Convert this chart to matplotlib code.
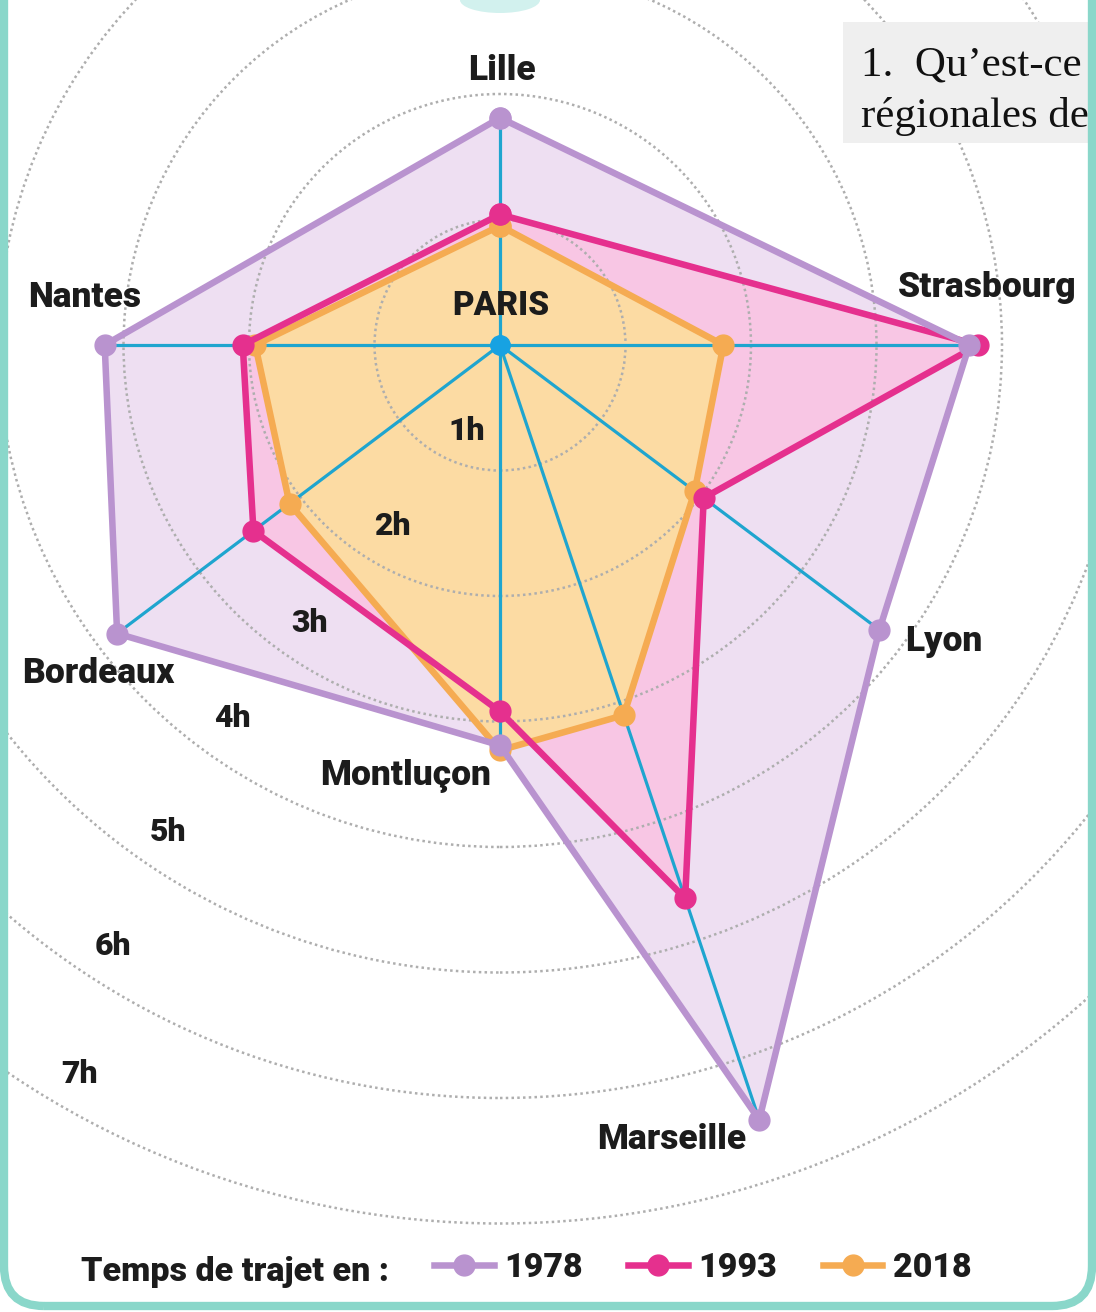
import numpy as np
import matplotlib.pyplot as plt
from matplotlib.patches import Circle, FancyBboxPatch, Rectangle, Ellipse

# temps de trajet depuis Paris (en heures)
villes = ['Lille', 'Strasbourg', 'Lyon', 'Marseille', 'Montluçon', 'Bordeaux', 'Nantes']
angles = [90, 0, -36.9, -71.5, -90, 217, 180]   # direction de chaque ville vue de Paris
t1978 = [1.81, 3.74, 3.78, 6.51, 3.19, 3.82, 3.15]
t1993 = [1.04, 3.81, 2.03, 4.65, 2.92, 2.46, 2.05]
t2018 = [0.95, 1.78, 1.94, 3.11, 3.23, 2.10, 1.95]
heures = [1, 2, 3, 4, 5, 6, 7]
annees = ['1978', '1993', '2018']

W, H = 1096, 1312
S = 125.5          # pixels par heure
CX, CY = 500, 345  # Paris, en pixels


def px(x, y):
    """pixel de l'image -> coordonnées en heures"""
    return (x - CX) / S, (CY - y) / S


def polygone(vals):
    a = np.radians(angles)
    v = np.asarray(vals)
    x = v * np.cos(a)
    y = v * np.sin(a)
    return np.append(x, x[0]), np.append(y, y[0])


fig = plt.figure(figsize=(W / 100, H / 100), dpi=100)
ax = fig.add_axes([0, 0, 1, 1])
x0, y0 = px(0, H)
x1, y1 = px(W, 0)
ax.set_xlim(x0, x1)
ax.set_ylim(y0, y1)
ax.set_aspect('equal')
ax.axis('off')

violet = '#b993cf'
rose = '#e5308e'
orange = '#f5ab52'
cyan = '#1fa5cf'

# remplissages
for vals, fc, z in [(t1978, '#eedff2', 1), (t1993, '#f8c6e4', 2), (t2018, '#fcdba3', 3)]:
    xs, ys = polygone(vals)
    ax.fill(xs, ys, color=fc, zorder=z, lw=0)

# cercles horaires
for h in heures:
    ax.add_patch(Circle((0, 0), h, fill=False, ec='#aeaeae', lw=1.8,
                        ls=(0, (1, 1.3)), zorder=4))

# rayons
a = np.radians(angles)
rmax = np.max([t1978, t1993, t2018], axis=0)
for ang, r in zip(a, rmax):
    ax.plot([0, r * np.cos(ang)], [0, r * np.sin(ang)], color=cyan, lw=2.3,
            zorder=5, solid_capstyle='round')

lignes = []
for vals, col, z in [(t2018, orange, 6), (t1993, rose, 7), (t1978, violet, 8)]:
    xs, ys = polygone(vals)
    ln, = ax.plot(xs, ys, '-o', color=col, lw=4.7, ms=15, zorder=z,
                  solid_joinstyle='round')
    lignes.append(ln)
lignes = lignes[::-1]

ax.plot(0, 0, 'o', color='#17a2e2', ms=14, zorder=9)

police = ['Roboto', 'DejaVu Sans']
texte = '#1c1c1c'
gras = 'heavy'

# noms des villes (centre x, ligne de base y en pixels)
pos_villes = {
    'PARIS': (501, 315),
    'Lille': (502, 80),
    'Strasbourg': (987, 297),
    'Lyon': (944, 651),
    'Marseille': (672, 1149),
    'Montluçon': (406, 785),
    'Bordeaux': (98, 683),
    'Nantes': (85, 307),
}
for nom, (u, v) in pos_villes.items():
    taille = 24 if nom == 'PARIS' else 25.5
    ax.text(*px(u, v), nom, ha='center', va='baseline', fontsize=taille,
            fontweight=gras, family=police, color=texte, zorder=10)

# étiquettes des heures
pos_heures = [(467, 440), (392, 535), (310, 632), (232, 727), (168, 841),
              (113, 955), (80, 1083)]
for h, (u, v) in zip(heures, pos_heures):
    ax.text(*px(u, v), f'{h}h', ha='center', va='baseline', fontsize=23,
            fontweight=gras, family=police, color=texte, zorder=10)

# légende
ax.text(*px(81, 1281), 'Temps de trajet en :', ha='left', va='baseline',
        fontsize=24.5, fontweight=gras, family=police, color=texte, zorder=10)
leg = ax.legend(lignes, annees, loc='center left',
                bbox_to_anchor=(434 / W, 1 - 1268 / H), ncol=3, frameon=False,
                borderpad=0, borderaxespad=0, handlelength=1.75,
                handletextpad=0.3, columnspacing=1.35, numpoints=1,
                prop={'family': police, 'weight': gras, 'size': 24.5})
for t in leg.get_texts():
    t.set_color(texte)

# encadré du document
bx, by = px(843, 143)
ax.add_patch(Rectangle((bx, by), (W - 843 + 5) / S, (143 - 22) / S,
                       fc='#efefef', ec='none', zorder=11))
serif = ['Liberation Serif', 'DejaVu Serif']
ax.text(*px(861, 76), '1.  Qu’est-ce', ha='left', va='baseline', fontsize=31,
        family=serif, color='#111111', zorder=12)
ax.text(*px(861, 127), 'régionales de', ha='left', va='baseline', fontsize=31,
        family=serif, color='#111111', zorder=12)

# cadre arrondi
cx0, cy0 = px(4, 1306)
ax.add_patch(FancyBboxPatch((cx0, cy0), (W - 8) / S, (1306 + 80) / S,
                            boxstyle=f'round,pad=0,rounding_size={40 / S}',
                            fc='none', ec='#8ad7ca', lw=6, zorder=20, clip_on=False))
ax.add_patch(Ellipse(px(500, 0), 80 / S, 26 / S, fc='#d2f1ee', ec='none', zorder=20))

fig.savefig('out.png', dpi=100)
